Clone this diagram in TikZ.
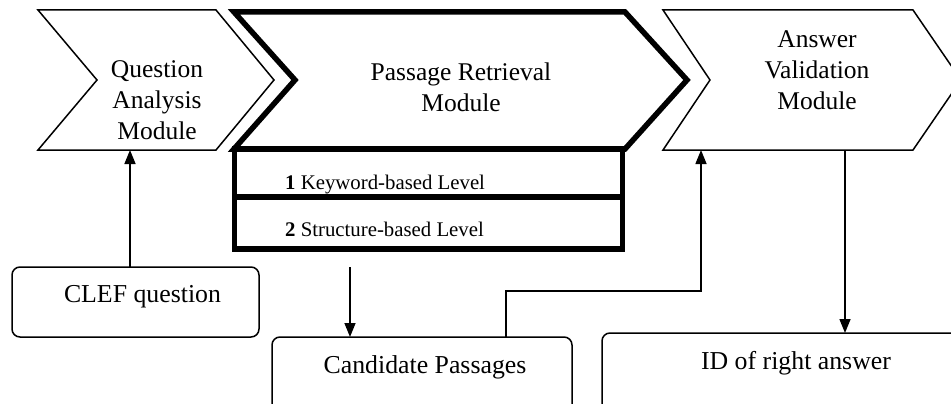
\documentclass[tikz,border=0pt]{standalone}
\usepackage{fontspec}
\setmainfont{Liberation Serif}
\usetikzlibrary{arrows.meta}

\tikzset{
  thin line/.style={line width=1.5pt, line join=miter},
  thick line/.style={line width=5.5pt, line join=miter},
  modtext/.style={align=center, inner sep=0pt, font=\fontsize{25.5}{31}\selectfont},
  leveltext/.style={anchor=base west, inner sep=0pt, font=\fontsize{20.8}{25}\selectfont},
  levelbox/.style={thick line, draw, rectangle, minimum width=388pt, inner sep=0pt, outer sep=0pt},
  iobox/.style={thin line, draw, rectangle, rounded corners=8pt, inner sep=0pt, outer sep=0pt, fill=white},
  iotext/.style={inner sep=0pt, font=\fontsize{25.8}{31}\selectfont},
  arr/.style={line width=1.5pt, -{Triangle[length=14pt,width=11pt]}},
}

\begin{document}
\begin{tikzpicture}[x=1pt, y=-1pt]
  \clip (0,0) rectangle (951,404);
  \fill[white] (0,0) rectangle (951,404);

  % Question Analysis chevron
  \draw[thin line] (38,10) -- (216,10) -- (274,80) -- (216,150) -- (38,150) -- (97,80) -- cycle;
  \node[modtext] (qa) at (157,100) {Question\\Analysis\\Module};
  \coordinate (qa-in) at (130,150);

  % Passage Retrieval chevron with its two levels
  \draw[thick line] (234,12) -- (625,12) -- (687,80) -- (625,149) -- (234,149) -- (295,80) -- cycle;
  \node[modtext] (pr) at (461,87) {Passage Retrieval\\Module};
  \node[levelbox, minimum height=48pt, anchor=north west] (lev1) at (234.5,149) {};
  \node[levelbox, minimum height=52pt, anchor=north west] (lev2) at (lev1.south west) {};
  \node[leveltext] (lev1t) at (285,189) {\textbf{1} Keyword-based Level};
  \node[leveltext] (lev2t) at (285,236) {\textbf{2} Structure-based Level};
  \coordinate (pr-out) at (350,267);

  % Answer Validation chevron
  \draw[thin line] (663,10) -- (913,10) -- (961,80) -- (913,150) -- (663,150) -- (710,80) -- cycle;
  \node[modtext] (av) at (817,70) {Answer\\Validation\\Module};
  \coordinate (av-in) at (701,150);
  \coordinate (av-out) at (845,150);

  % Input and output boxes
  \node[iobox, minimum width=247pt, minimum height=70pt] (clef) at (135.5,302) {};
  \node[iotext] (cleft) at (142.5,297) {CLEF question};
  \node[iobox, minimum width=300pt, minimum height=83pt] (cand) at (422,378.5) {};
  \node[iotext] (candt) at (425,367) {Candidate Passages};
  \node[iobox, minimum width=400pt, minimum height=87pt, anchor=north west] (id) at (602,333) {};
  \node[iotext] (idt) at (796,363) {ID of right answer};

  % Connectors
  \draw[arr] (clef.north -| qa-in) -- (qa-in);
  \draw[arr] (pr-out) -- (pr-out |- cand.north);
  \draw[arr, line join=miter] (cand.north -| 506,0) -- (506,291) -| (av-in);
  \draw[arr] (av-out) -- (av-out |- id.north);
\end{tikzpicture}
\end{document}
